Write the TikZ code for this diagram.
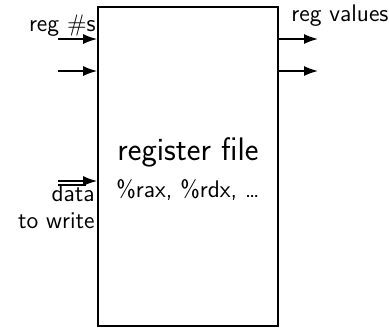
\documentclass[tikz,border=0pt]{standalone}
\usetikzlibrary{arrows.meta}
\renewcommand{\familydefault}{\sfdefault}
\begin{document}
\begin{tikzpicture}[x=0.5pt,y=-0.5pt,
  lbl/.style={inner sep=0pt,font=\sffamily\fontsize{12}{14}\selectfont},
  arr/.style={-{Latex[length=7pt,width=5pt]},line width=0.8pt}]
\useasboundingbox (0,0) rectangle (389,329);
\node[draw,line width=0.8pt,minimum width=90pt,minimum height=159.5pt,inner sep=0pt] (rf) at (188,166.5) {};
\node[inner sep=0pt,font=\sffamily\fontsize{16.3}{19}\selectfont] (title) at (188,152) {register file};
\node[lbl] (sub) at (188,190) {\%rax, \%rdx, \ldots};
\node[lbl,anchor=base east] (regs) at (96,31) {reg $\#$s};
\node[lbl,anchor=base west] (vals) at (291,21) {reg values};
\coordinate (i1) at (58,39); \coordinate (o1) at (rf.west |- i1);
\coordinate (i2) at (58,71); \coordinate (o2) at (rf.west |- i2);
\coordinate (r1s) at (rf.east |- i1); \coordinate (r1e) at (318,39);
\coordinate (r2s) at (rf.east |- i2); \coordinate (r2e) at (318,71);
\draw[arr] (i1) -- (o1);
\draw[arr] (i2) -- (o2);
\draw[arr] (r1s) -- (r1e);
\draw[arr] (r2s) -- (r2e);
\coordinate (d1) at (58,181); \coordinate (d1e) at (rf.west |- d1);
\coordinate (d2) at (58,185); \coordinate (d2e) at (86,185);
\draw[arr] (d1) -- (d1e);
\draw[line width=0.8pt] (d2) -- (d2e);
\node[lbl,anchor=east] (data) at (95,193) {data};
\node[lbl,anchor=east] (tw) at (95,221) {to write};
\end{tikzpicture}
\end{document}
